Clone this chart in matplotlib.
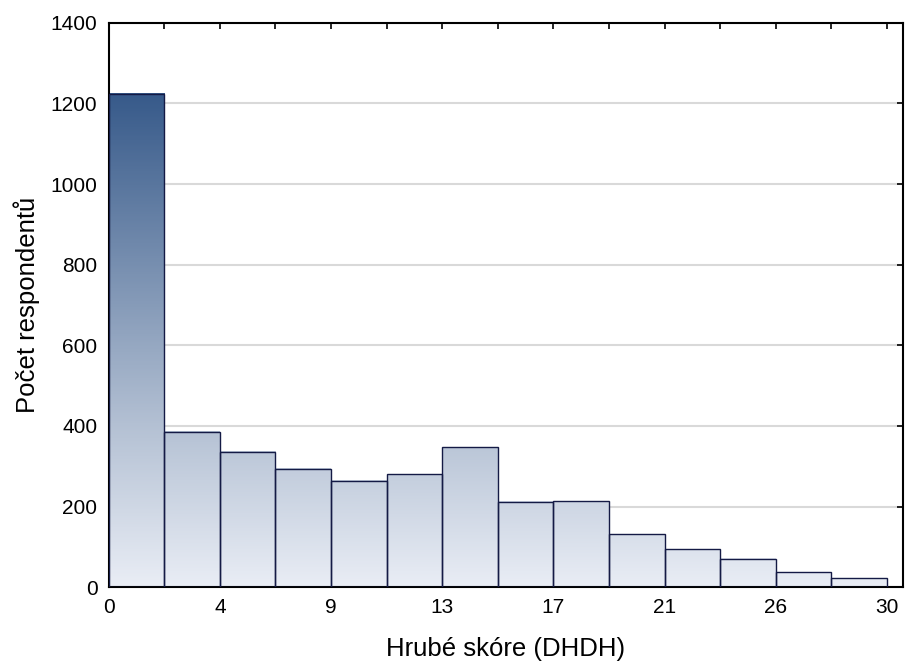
import numpy as np
import matplotlib.pyplot as plt
from matplotlib.colors import LinearSegmentedColormap, Normalize

plt.rcParams["font.family"] = ["Liberation Sans", "DejaVu Sans"]

# Histogram of raw scores (DHDH), 14 bins from 0 to 30
bin_edges = np.linspace(0, 30, 15)
counts = [1224, 385, 335, 293, 263, 280, 347, 211, 213, 131, 94, 70, 37, 22]
tick_labels = ["0", "4", "9", "13", "17", "21", "26", "30"]

cmap = LinearSegmentedColormap.from_list(
    "bars", [(0.0, "#e9edf5"), (0.33, "#b3c0d3"), (1.0, "#375a8a")])
norm = Normalize(0, 1225)

fig, ax = plt.subplots(figsize=(9.05, 6.71), dpi=100)
fig.subplots_adjust(left=0.12, right=0.998, top=0.966, bottom=0.125)

ax.set_axisbelow(True)
ax.yaxis.grid(True, color="#d9d9d9", linewidth=1.5, zorder=0)

for left, right, h in zip(bin_edges[:-1], bin_edges[1:], counts):
    grad = np.linspace(0, h, 200).reshape(-1, 1)
    ax.imshow(grad, cmap=cmap, norm=norm, origin="lower", aspect="auto",
              extent=(left, right, 0, h), zorder=2, interpolation="bilinear")
    ax.bar(left, h, width=right - left, align="edge", facecolor="none",
           edgecolor="#141a45", linewidth=1.0, zorder=3)

ax.set_xlim(0, 30.62)
ax.set_ylim(0, 1400)
ax.set_xticks(bin_edges, minor=False)
ax.set_xticklabels([tick_labels[i // 2] if i % 2 == 0 else "" for i in range(15)])
ax.set_yticks(np.arange(0, 1401, 200))
ax.tick_params(direction="in", top=True, right=True, length=4, width=1.2,
               labelsize=15, pad=8)
for s in ax.spines.values():
    s.set_linewidth(1.5)

ax.set_xlabel("Hrubé skóre (DHDH)", fontsize=18.5, labelpad=14)
ax.set_ylabel("Počet respondentů", fontsize=18.5, labelpad=8)

fig.savefig("out.png", dpi=100)
